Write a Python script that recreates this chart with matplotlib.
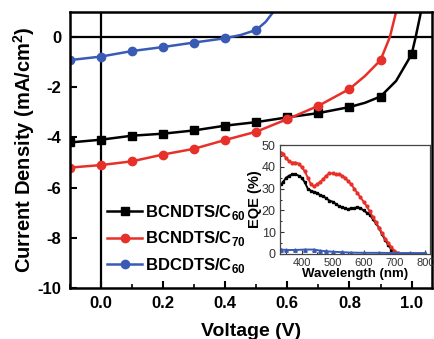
import numpy as np
import matplotlib
matplotlib.use("Agg")
import matplotlib.pyplot as plt

plt.rcParams["font.family"] = ["Liberation Sans", "DejaVu Sans"]
plt.rcParams["mathtext.fontset"] = "custom"
plt.rcParams["mathtext.rm"] = "Liberation Sans"
plt.rcParams["mathtext.bf"] = "Liberation Sans:bold"

# J-V curves (line points, markers every 0.1 V)
v_black = [-0.1, 0.0, 0.1, 0.2, 0.3, 0.4, 0.5, 0.6, 0.7, 0.8, 0.85, 0.9, 0.95, 1.0, 1.013, 1.03]
j_black = [-4.2, -4.09, -3.93, -3.85, -3.72, -3.53, -3.39, -3.2, -3.03, -2.79, -2.62, -2.37, -1.75, -0.69, 0.0, 1.0]
mk_black = [0, 1, 2, 3, 4, 5, 6, 7, 8, 9, 11, 13]

v_red = [-0.1, 0.0, 0.1, 0.2, 0.3, 0.4, 0.5, 0.6, 0.7, 0.8, 0.85, 0.9, 0.93, 0.95]
j_red = [-5.2, -5.1, -4.95, -4.68, -4.45, -4.1, -3.77, -3.27, -2.74, -2.07, -1.55, -0.92, 0.0, 1.0]
mk_red = [0, 1, 2, 3, 4, 5, 6, 7, 8, 9, 11]

v_blue = [-0.1, 0.0, 0.1, 0.2, 0.3, 0.4, 0.45, 0.5, 0.53, 0.555]
j_blue = [-0.92, -0.78, -0.56, -0.4, -0.22, -0.05, 0.08, 0.28, 0.6, 1.0]
mk_blue = [0, 1, 2, 3, 4, 5, 7]

labels = ["BCNDTS/C$_{\\mathbf{60}}$", "BCNDTS/C$_{\\mathbf{70}}$", "BDCDTS/C$_{\\mathbf{60}}$"]

# EQE inset
wl_black = [335, 340, 350, 360, 370, 380, 390, 400, 410, 420, 430, 440, 450, 460, 470, 480, 490, 500,
            510, 520, 530, 540, 550, 560, 570, 580, 590, 600, 610, 620, 630, 640, 650, 660, 670, 680,
            690, 700, 710]
eqe_black = [32, 33, 35, 36, 36.5, 36.5, 36, 35, 33, 30, 29, 28.5, 28, 27, 26.5, 25.5, 24.5, 24,
             23, 22, 21.5, 21, 20.5, 21, 21, 21.5, 21, 20, 19, 18, 16, 14, 12, 9, 6.5, 4,
             2, 1, 0.3]

wl_red = [335, 340, 350, 360, 370, 380, 390, 400, 410, 420, 430, 440, 450, 460, 470, 480, 490, 500,
          510, 520, 530, 540, 550, 560, 570, 580, 590, 600, 610, 620, 630, 640, 650, 660, 670, 680,
          690, 700, 710]
eqe_red = [46.5, 46, 44, 42.5, 42, 42, 41.5, 40, 38, 35, 32, 31, 32, 33, 34.5, 36, 37, 37,
           36.5, 36.5, 36, 35, 33.5, 32, 30, 28, 26, 24, 22, 19.5, 17, 14.5, 12, 9.5, 7, 5,
           3, 1.5, 0.5]

wl_blue = [335, 350, 380, 410, 440, 460, 480, 500, 530, 560, 600, 650, 700, 750, 800]
eqe_blue = [2, 1.8, 1.8, 2, 2, 1.5, 1.2, 1, 0.8, 0.6, 0.5, 0.5, 0.4, 0.4, 0.4]

RED = "#e8302a"
BLUE = "#3a5bb5"

fig = plt.figure(figsize=(4.34, 3.39), dpi=100)
ax = fig.add_axes([0.161, 0.150, 0.834, 0.815])

ax.axhline(0, color="black", lw=1.6, zorder=1)
ax.axvline(0, color="black", lw=1.6, zorder=1)

ax.plot(v_black, j_black, color="black", lw=1.8, marker="s", ms=5.5, markevery=mk_black, label=labels[0])
ax.plot(v_red, j_red, color=RED, lw=1.8, marker="o", ms=6, markevery=mk_red, label=labels[1])
ax.plot(v_blue, j_blue, color=BLUE, lw=1.8, marker="o", ms=6, markevery=mk_blue, label=labels[2])

ax.set_xlim(-0.1, 1.065)
ax.set_ylim(-10, 1)
ax.set_xticks([0.0, 0.2, 0.4, 0.6, 0.8, 1.0])
ax.set_xticks(np.arange(-0.1, 1.06, 0.1), minor=True)
ax.set_yticks([0, -2, -4, -6, -8, -10])
ax.set_xticklabels(["0.0", "0.2", "0.4", "0.6", "0.8", "1.0"])
ax.set_yticklabels(["0", "-2", "-4", "-6", "-8", "-10"])
ax.tick_params(direction="in", length=5, width=1.5, labelsize=12, pad=6)
ax.tick_params(which="minor", direction="in", length=3, width=1.2)
for lab in ax.get_xticklabels() + ax.get_yticklabels():
    lab.set_fontweight("bold")
for sp in ax.spines.values():
    sp.set_linewidth(1.8)

ax.set_xlabel("Voltage (V)", fontsize=14, fontweight="bold")
ax.set_ylabel("Current Density (mA/cm$^{\\mathbf{2}}$)", fontsize=14.5, fontweight="bold")
ax.xaxis.set_label_coords(0.5, -0.125)
ax.yaxis.set_label_coords(-0.09, 0.5)

leg = ax.legend(loc="center left", bbox_to_anchor=(0.08, 0.178), frameon=False,
                handlelength=2.1, handletextpad=0.2, labelspacing=0.45, borderpad=0,
                prop={"weight": "bold", "size": 12})

# inset
ins = fig.add_axes([0.645, 0.251, 0.346, 0.321])
ins.plot(wl_black, eqe_black, color="black", lw=1.4, marker="s", ms=2)
ins.plot(wl_red, eqe_red, color=RED, lw=1.4, marker="o", ms=2)
ins.plot(wl_blue, eqe_blue, color=BLUE, lw=1.4, marker="^", ms=2.5)
ins.set_xlim(330, 815)
ins.set_ylim(0, 50)
ins.set_xticks([400, 500, 600, 700, 800])
ins.set_xticks(np.arange(350, 815, 50), minor=True)
ins.set_yticks([0, 10, 20, 30, 40, 50])
ins.set_yticks(np.arange(5, 50, 10), minor=True)
ins.tick_params(direction="in", length=3, width=0.8, pad=3, colors="#333333")
ins.tick_params(axis="x", labelsize=8)
ins.tick_params(axis="y", labelsize=9)
ins.tick_params(which="minor", direction="in", length=1.5, width=0.6)
for sp in ins.spines.values():
    sp.set_linewidth(0.9)
    sp.set_color("#444444")
ins.set_xlabel("Wavelength (nm)", fontsize=9.5, fontweight="bold", labelpad=0)
ins.set_ylabel("EQE (%)", fontsize=10.5, fontweight="bold", labelpad=0)

fig.savefig("out.png", dpi=100)
